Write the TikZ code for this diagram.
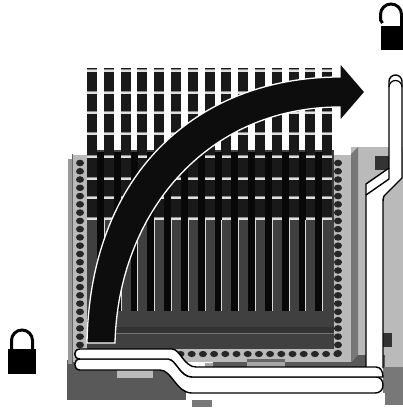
\documentclass[tikz,border=0pt]{standalone}
\usepackage{xcolor}
\usepackage{tikz}
\tikzset{
  lever/.style={fill=white, draw=black, line width=1.4pt, line join=round},
  pindot/.style={fill=black!85, draw=none},
  lockpart/.style={fill=black, draw=none},
}
\begin{document}
\begin{tikzpicture}[x=1pt, y=-1pt]
  \useasboundingbox (0,0) rectangle (403,409);
  \fill[black!65] (67,360) rectangle (186,400);
  \fill[black!53] (192,400) rectangle (212,407);
  \fill[black!27] (117,370) rectangle (153,378);
  \fill[black!40] (68,159) rectangle (72,364);
  \fill[black!60] (72,154) rectangle (73,360);
  \fill[black!27] (73,155) rectangle (351,362);
  \fill[black!27] (351,147) rectangle (403,358);
  \fill[black!53] (351,154) -- (358,147) -- (358,355) -- (351,362) -- cycle;
  \fill[black!65] (351,362) -- (358,355) -- (385,355) -- (385,368) -- (351,368) -- cycle;
  \fill[black!65] (280,362) rectangle (351,368);
  \fill[black!65] (213,362) rectangle (247,368);
  \fill[black!35] (205,363) rectangle (213,368);
  \fill[black!60] (247,359) rectangle (285,362);
  \fill[black!35] (247,362) rectangle (285,368);
  \fill[black!80] (375,156) rectangle (391,170);
  \fill[black!80] (383,333) rectangle (392,347);
  \fill[black!27] (385,358) rectangle (403,367);
  \fill[black!53] (383,367) rectangle (403,393);
  \fill[black!53] (385,393) rectangle (403,405);
  \fill[black!75] (87,150) rectangle (334,349);
  \fill[black!80] (87,327) rectangle (334,333);
  \draw[black!55, line width=0.8pt] (87,333) -- (334,333);
  \foreach \i in {0,...,22}
    \fill[pindot] (80,163+8.27*\i) ellipse (4 and 3.3);
  \foreach \i in {0,...,23}
    \fill[pindot] (338,163+8.27*\i) ellipse (4 and 3.3);
  \foreach \i in {0,...,14}
    \fill[pindot] (180.5+11.2*\i,354) ellipse (4 and 3.1);
  \foreach \i in {0,...,14}{
    \fill[black!90] (87+16.8*\i,68) rectangle (97+16.8*\i,218);
    \foreach \y in {70,92,112,133,156,178,197,218}{
      \fill[black!45] (87+16.8*\i,\y-1.2) rectangle (97+16.8*\i,\y);
      \fill[black!12] (87+16.8*\i,\y) rectangle (97+16.8*\i,\y+1.8);
    }
  }
  \foreach \i in {0,...,13}{
    \fill[black!97] (97+16.8*\i,152) rectangle (104+16.8*\i,311);
    \draw[black!15, line width=0.7pt] (104.2+16.8*\i,220) -- (104.2+16.8*\i,311);
  }
  \draw[fill=black!95, draw=white, line width=1.3pt, line join=miter]
    (87,343) .. controls (90,170) and (200,77) .. (340,77)
    -- (340,63) -- (365,92) -- (340,121) -- (340,107)
    .. controls (205,107) and (118,215) .. (115,343) -- cycle;
  \draw[lever] (366,368) -- (366,184) -- (389,168) -- (389,81.5)
    arc[start angle=180, end angle=360, radius=6.5]
    -- (402,178) -- (384,196) .. controls (383,198) and (383,200) .. (383,204) -- (383,368);
  \draw[line width=1.2pt] (389,87) arc[start angle=180, end angle=360, radius=6.5];
  \draw[line width=1.4pt, line join=round] (389,168) -- (389,179) -- (366,195);
  \draw[lever] (80,359) -- (168,359) .. controls (176,359) and (180,377) .. (192,377)
    -- (376,377) .. controls (381,377) and (383,381) .. (383,385)
    .. controls (383,390) and (380,393) .. (375,393)
    -- (192,393) .. controls (176,393) and (172,370) .. (160,370)
    -- (80,370) .. controls (73,370) and (73,359) .. (80,359) -- cycle;
  \draw[lever] (80,349) -- (172,349) .. controls (180,349) and (184,367) .. (196,367)
    -- (376,367) .. controls (381,367) and (383,372) .. (383,377)
    -- (376,377) -- (192,377) .. controls (180,377) and (176,359) .. (168,359)
    -- (80,359) .. controls (73,359) and (73,349) .. (80,349) -- cycle;
  \fill[lockpart] (8,349) rectangle (36,374);
  \draw[line width=3pt] (11.5,350) -- (11.5,340.5) arc[start angle=180, end angle=360, radius=10.5] -- (32.5,350);
  \fill[lockpart] (381,26) rectangle (403,50);
  \draw[line width=3pt] (382.5,23) -- (380.5,20) -- (380.5,14.5) arc[start angle=180, end angle=360, radius=10.5] -- (401.5,27);
\end{tikzpicture}
\end{document}
